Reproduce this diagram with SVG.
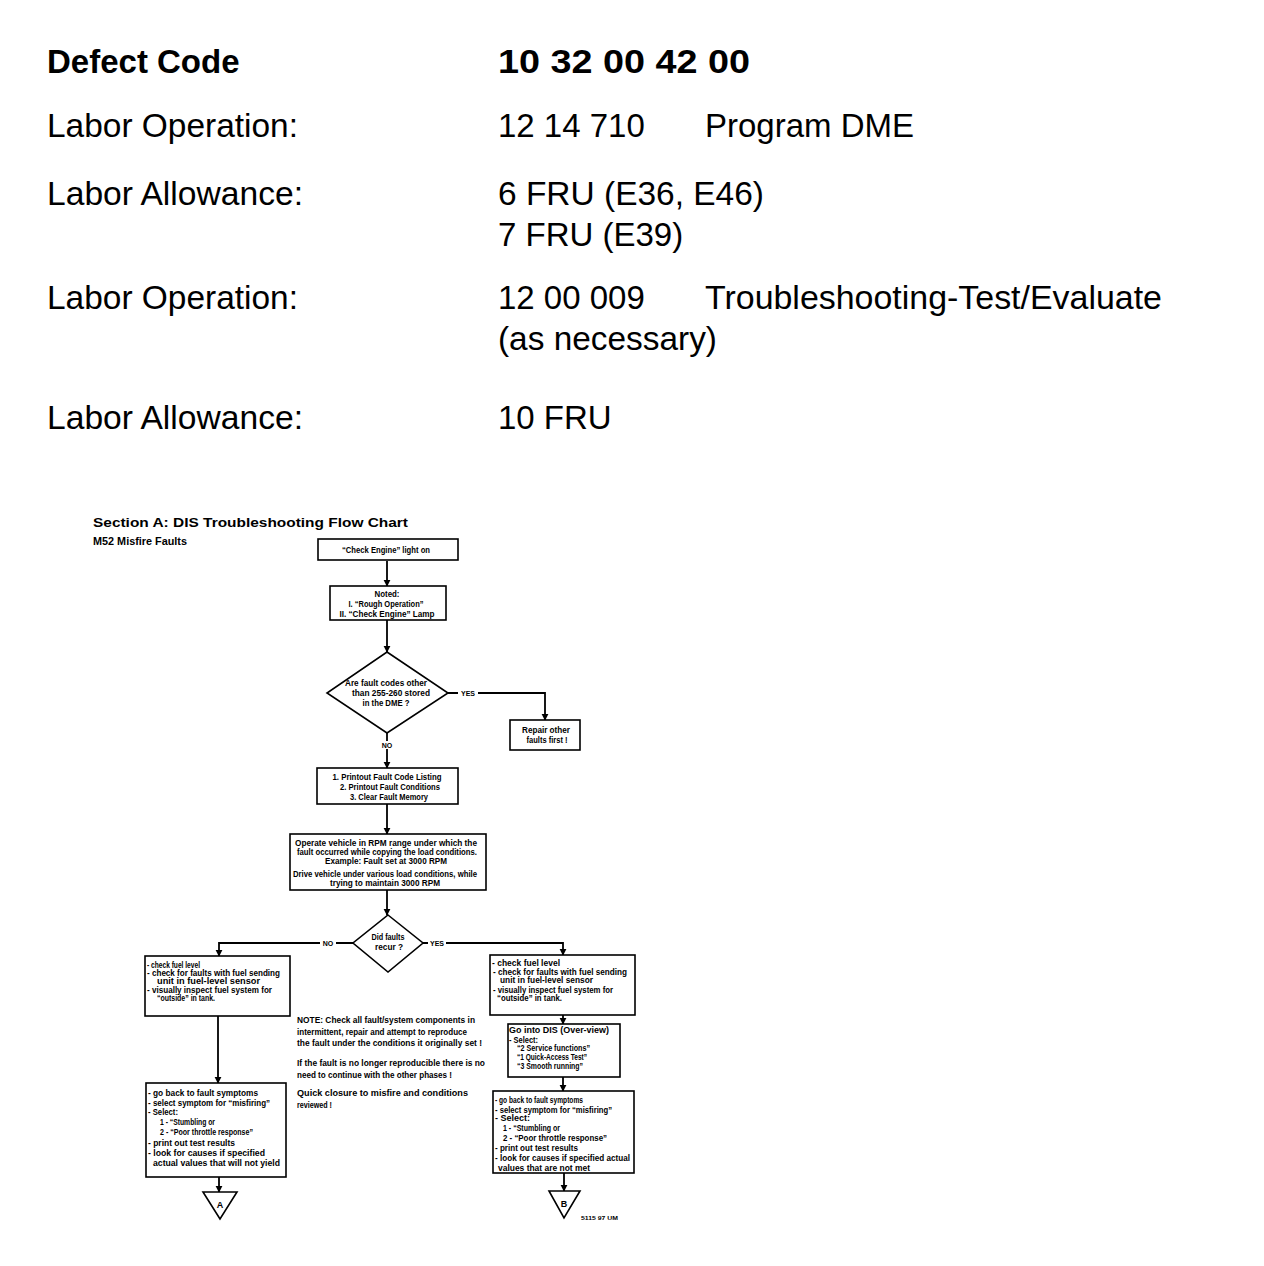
<svg xmlns="http://www.w3.org/2000/svg" width="1264" height="1266" viewBox="0 0 1264 1266">
<style>
.h{font-family:"Liberation Sans",Arial,sans-serif;font-size:33px;fill:#000}
.hb{font-weight:bold}
.t{font-family:"Liberation Sans",Arial,sans-serif;font-size:9px;font-weight:bold;fill:#000}
.c{text-anchor:middle}
.box{fill:#fff;stroke:#000;stroke-width:1.6}
.ln{fill:none;stroke:#000;stroke-width:1.8}
.lbl{font-family:"Liberation Sans",Arial,sans-serif;font-size:7px;font-weight:bold;fill:#000;text-anchor:middle}
</style>
<defs>
<marker id="ah" viewBox="0 0 10 10" refX="9" refY="5" markerWidth="4" markerHeight="4" orient="auto" markerUnits="strokeWidth">
<path d="M0,0 L10,5 L0,10 z" fill="#000"/>
</marker>
</defs>
<rect width="1264" height="1266" fill="#fff"/>
<g id="header">
<text class="h hb" x="47" y="73">Defect Code</text>
<text class="h hb" x="498" y="73" textLength="252" lengthAdjust="spacingAndGlyphs">10 32 00 42 00</text>
<text class="h" x="47" y="137" textLength="251" lengthAdjust="spacingAndGlyphs">Labor Operation:</text>
<text class="h" x="498" y="137">12 14 710</text>
<text class="h" x="705" y="137">Program DME</text>
<text class="h" x="47" y="205" textLength="256" lengthAdjust="spacingAndGlyphs">Labor Allowance:</text>
<text class="h" x="498" y="205" textLength="266" lengthAdjust="spacingAndGlyphs">6 FRU (E36, E46)</text>
<text class="h" x="498" y="246">7 FRU (E39)</text>
<text class="h" x="47" y="309" textLength="251" lengthAdjust="spacingAndGlyphs">Labor Operation:</text>
<text class="h" x="498" y="309">12 00 009</text>
<text class="h" x="705" y="309" textLength="457" lengthAdjust="spacingAndGlyphs">Troubleshooting-Test/Evaluate</text>
<text class="h" x="498" y="350" textLength="219" lengthAdjust="spacingAndGlyphs">(as necessary)</text>
<text class="h" x="47" y="429" textLength="256" lengthAdjust="spacingAndGlyphs">Labor Allowance:</text>
<text class="h" x="498" y="429">10 FRU</text>
</g>
<g id="chart-title">
<text class="t" x="93" y="527" style="font-size:13px" textLength="315" lengthAdjust="spacingAndGlyphs">Section A: DIS Troubleshooting Flow Chart</text>
<text class="t" x="93" y="545" style="font-size:10px" textLength="94" lengthAdjust="spacingAndGlyphs">M52 Misfire Faults</text>
</g>
<g id="connectors">
<path class="ln" d="M387,561 V586" marker-end="url(#ah)"/>
<path class="ln" d="M387,620 V652" marker-end="url(#ah)"/>
<path class="ln" d="M448,693 H545 V720" marker-end="url(#ah)"/>
<path class="ln" d="M387,733 V768" marker-end="url(#ah)"/>
<path class="ln" d="M387,804 V834" marker-end="url(#ah)"/>
<path class="ln" d="M387,890 V915" marker-end="url(#ah)"/>
<path class="ln" d="M353,943 H219 V956" marker-end="url(#ah)"/>
<path class="ln" d="M423,943 H563 V955" marker-end="url(#ah)"/>
<path class="ln" d="M218,1016 V1083" marker-end="url(#ah)"/>
<path class="ln" d="M563,1015 V1024" marker-end="url(#ah)"/>
<path class="ln" d="M563,1077 V1091" marker-end="url(#ah)"/>
<path class="ln" d="M219,1177 V1192" marker-end="url(#ah)"/>
<path class="ln" d="M564,1173 V1191" marker-end="url(#ah)"/>
<rect x="458" y="689" width="20" height="8" fill="#fff"/>
<text class="lbl" x="468" y="696">YES</text>
<rect x="379" y="741" width="16" height="8" fill="#fff"/>
<text class="lbl" x="387" y="748">NO</text>
<rect x="320" y="939" width="16" height="8" fill="#fff"/>
<text class="lbl" x="328" y="946">NO</text>
<rect x="428" y="939" width="18" height="8" fill="#fff"/>
<text class="lbl" x="437" y="946">YES</text>
</g>
<g id="n1">
<rect class="box" x="318" y="539" width="140" height="21"/>
<text class="t c" x="386" y="553" textLength="88" lengthAdjust="spacingAndGlyphs">“Check Engine” light on</text>
</g>
<g id="n2">
<rect class="box" x="330" y="586" width="116" height="34"/>
<text class="t c" x="387" y="597" textLength="25" lengthAdjust="spacingAndGlyphs">Noted:</text>
<text class="t c" x="386" y="607" textLength="75" lengthAdjust="spacingAndGlyphs">I. “Rough Operation”</text>
<text class="t c" x="387" y="617" textLength="95" lengthAdjust="spacingAndGlyphs">II. “Check Engine” Lamp</text>
</g>
<g id="d1">
<polygon class="box" points="387,652 448,693 387,733 327,693"/>
<text class="t c" x="386" y="686" textLength="82" lengthAdjust="spacingAndGlyphs">Are fault codes other</text>
<text class="t c" x="391" y="696" textLength="78" lengthAdjust="spacingAndGlyphs">than 255-260 stored</text>
<text class="t c" x="386" y="706" textLength="47" lengthAdjust="spacingAndGlyphs">in the DME ?</text>
</g>
<g id="n3">
<rect class="box" x="510" y="720" width="70" height="30"/>
<text class="t c" x="546" y="733" textLength="48" lengthAdjust="spacingAndGlyphs">Repair other</text>
<text class="t c" x="547" y="743" textLength="41" lengthAdjust="spacingAndGlyphs">faults first !</text>
</g>
<g id="n4">
<rect class="box" x="317" y="768" width="141" height="36"/>
<text class="t c" x="387" y="780" textLength="109" lengthAdjust="spacingAndGlyphs">1. Printout Fault Code Listing</text>
<text class="t c" x="390" y="790" textLength="100" lengthAdjust="spacingAndGlyphs">2. Printout Fault Conditions</text>
<text class="t c" x="389" y="800" textLength="78" lengthAdjust="spacingAndGlyphs">3. Clear Fault Memory</text>
</g>
<g id="n5">
<rect class="box" x="290" y="834" width="196" height="56"/>
<text class="t c" x="386" y="846" textLength="182" lengthAdjust="spacingAndGlyphs">Operate vehicle in RPM range under which the</text>
<text class="t c" x="387" y="855" textLength="180" lengthAdjust="spacingAndGlyphs">fault occurred while copying the load conditions.</text>
<text class="t c" x="386" y="864" textLength="122" lengthAdjust="spacingAndGlyphs">Example: Fault set at 3000 RPM</text>
<text class="t c" x="385" y="877" textLength="184" lengthAdjust="spacingAndGlyphs">Drive vehicle under various load conditions, while</text>
<text class="t c" x="385" y="886" textLength="110" lengthAdjust="spacingAndGlyphs">trying to maintain 3000 RPM</text>
</g>
<g id="d2">
<polygon class="box" points="388,915 423,943 388,972 353,943"/>
<text class="t c" x="388" y="940" textLength="33" lengthAdjust="spacingAndGlyphs">Did faults</text>
<text class="t c" x="389" y="950" textLength="28" lengthAdjust="spacingAndGlyphs">recur ?</text>
</g>
<g id="n6">
<rect class="box" x="145" y="956" width="145" height="60"/>
<text class="t" x="147" y="968" textLength="53" lengthAdjust="spacingAndGlyphs">- check fuel level</text>
<text class="t" x="147" y="976" textLength="133" lengthAdjust="spacingAndGlyphs">- check for faults with fuel sending</text>
<text class="t" x="157" y="984" textLength="103" lengthAdjust="spacingAndGlyphs">unit in fuel-level sensor</text>
<text class="t" x="147" y="993" textLength="125" lengthAdjust="spacingAndGlyphs">- visually inspect fuel system for</text>
<text class="t" x="157" y="1001" textLength="58" lengthAdjust="spacingAndGlyphs">“outside” in tank.</text>
</g>
<g id="n7">
<rect class="box" x="490" y="955" width="145" height="60"/>
<text class="t" x="492" y="966" textLength="68" lengthAdjust="spacingAndGlyphs">- check fuel level</text>
<text class="t" x="493" y="975" textLength="134" lengthAdjust="spacingAndGlyphs">- check for faults with fuel sending</text>
<text class="t" x="500" y="983" textLength="93" lengthAdjust="spacingAndGlyphs">unit in fuel-level sensor</text>
<text class="t" x="493" y="993" textLength="120" lengthAdjust="spacingAndGlyphs">- visually inspect fuel system for</text>
<text class="t" x="497" y="1001" textLength="65" lengthAdjust="spacingAndGlyphs">“outside” in tank.</text>
</g>
<g id="note">
<text class="t" x="297" y="1023" textLength="178" lengthAdjust="spacingAndGlyphs">NOTE: Check all fault/system components in</text>
<text class="t" x="297" y="1035" textLength="170" lengthAdjust="spacingAndGlyphs">intermittent, repair and attempt to reproduce</text>
<text class="t" x="297" y="1046" textLength="185" lengthAdjust="spacingAndGlyphs">the fault under the conditions it originally set !</text>
<text class="t" x="297" y="1066" textLength="188" lengthAdjust="spacingAndGlyphs">If the fault is no longer reproducible there is no</text>
<text class="t" x="297" y="1078" textLength="155" lengthAdjust="spacingAndGlyphs">need to continue with the other phases !</text>
<text class="t" x="297" y="1096" textLength="171" lengthAdjust="spacingAndGlyphs">Quick closure to misfire and conditions</text>
<text class="t" x="297" y="1108" textLength="35" lengthAdjust="spacingAndGlyphs">reviewed !</text>
</g>
<g id="n8">
<rect class="box" x="508" y="1024" width="112" height="53"/>
<text class="t" x="509" y="1033" textLength="100" lengthAdjust="spacingAndGlyphs">Go into DIS (Over-view)</text>
<text class="t" x="509" y="1043" textLength="29" lengthAdjust="spacingAndGlyphs">- Select:</text>
<text class="t" x="517" y="1051" textLength="73" lengthAdjust="spacingAndGlyphs">“2 Service functions”</text>
<text class="t" x="517" y="1060" textLength="70" lengthAdjust="spacingAndGlyphs">“1 Quick-Access Test”</text>
<text class="t" x="517" y="1069" textLength="66" lengthAdjust="spacingAndGlyphs">“3 Smooth running”</text>
</g>
<g id="n9">
<rect class="box" x="146" y="1083" width="140" height="94"/>
<text class="t" x="148" y="1096" textLength="110" lengthAdjust="spacingAndGlyphs">- go back to fault symptoms</text>
<text class="t" x="148" y="1106" textLength="122" lengthAdjust="spacingAndGlyphs">- select symptom for “misfiring”</text>
<text class="t" x="148" y="1115" textLength="30" lengthAdjust="spacingAndGlyphs">- Select:</text>
<text class="t" x="160" y="1125" textLength="55" lengthAdjust="spacingAndGlyphs">1 - “Stumbling or</text>
<text class="t" x="160" y="1135" textLength="93" lengthAdjust="spacingAndGlyphs">2 - “Poor throttle response”</text>
<text class="t" x="148" y="1146" textLength="87" lengthAdjust="spacingAndGlyphs">- print out test results</text>
<text class="t" x="148" y="1156" textLength="117" lengthAdjust="spacingAndGlyphs">- look for causes if specified</text>
<text class="t" x="153" y="1166" textLength="127" lengthAdjust="spacingAndGlyphs">actual values that will not yield</text>
</g>
<g id="n10">
<rect class="box" x="493" y="1091" width="141" height="82"/>
<text class="t" x="495" y="1103" textLength="88" lengthAdjust="spacingAndGlyphs">- go back to fault symptoms</text>
<text class="t" x="495" y="1113" textLength="117" lengthAdjust="spacingAndGlyphs">- select symptom for “misfiring”</text>
<text class="t" x="495" y="1121" textLength="35" lengthAdjust="spacingAndGlyphs">- Select:</text>
<text class="t" x="503" y="1131" textLength="57" lengthAdjust="spacingAndGlyphs">1 - “Stumbling or</text>
<text class="t" x="503" y="1141" textLength="104" lengthAdjust="spacingAndGlyphs">2 - “Poor throttle response”</text>
<text class="t" x="495" y="1151" textLength="83" lengthAdjust="spacingAndGlyphs">- print out test results</text>
<text class="t" x="495" y="1161" textLength="135" lengthAdjust="spacingAndGlyphs">- look for causes if specified actual</text>
<text class="t" x="498" y="1171" textLength="92" lengthAdjust="spacingAndGlyphs">values that are not met</text>
</g>
<g id="tA">
<polygon class="box" points="203,1192 237,1192 220,1219"/>
<text class="t c" x="220" y="1208">A</text>
</g>
<g id="tB">
<polygon class="box" points="549,1191 580,1191 564,1218"/>
<text class="t c" x="564" y="1207">B</text>
</g>
<text class="t" x="581" y="1220" style="font-size:6px" textLength="37" lengthAdjust="spacingAndGlyphs">5115 97 UM</text>
</svg>
